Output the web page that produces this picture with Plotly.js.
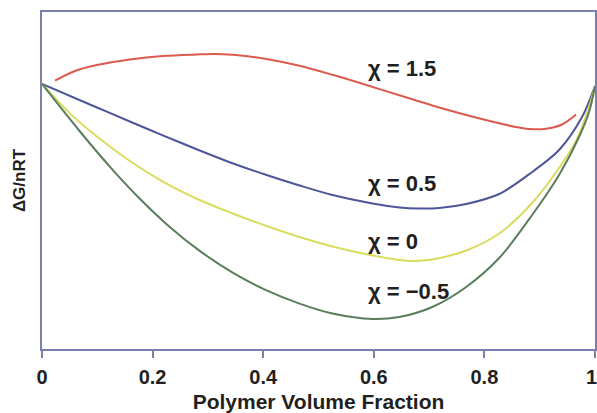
<!DOCTYPE html>
<html>
<head>
<meta charset="utf-8">
<script src="https://cdn.plot.ly/plotly-3.0.1.min.js"></script>
<style>html,body{margin:0;padding:0;background:#fff;}#chart{width:597px;height:413px;}</style>
</head>
<body>
<div id="chart"></div>
<script>
// Polymer volume fraction (x) and relative ΔG/nRT values (arbitrary units)
const redX   = [0.0235, 0.0596, 0.0993, 0.1588, 0.2184, 0.2798, 0.3123, 0.3448, 0.3755, 0.4061, 0.4657, 0.5253, 0.5866, 0.6462, 0.7058, 0.7671, 0.8267, 0.8538, 0.8809, 0.9116, 0.9404, 0.9657];
const redY   = [0.7961, 0.8249, 0.8427, 0.8591, 0.8694, 0.8739, 0.8754, 0.8730, 0.8680, 0.8605, 0.8404, 0.8136, 0.7834, 0.7528, 0.7226, 0.6944, 0.6697, 0.6596, 0.6528, 0.6534, 0.6662, 0.6958];

const blueX  = [0, 0.0993, 0.1588, 0.2184, 0.2852, 0.3394, 0.4061, 0.4657, 0.5253, 0.5975, 0.6462, 0.6823, 0.7184, 0.7671, 0.8267, 0.8863, 0.9350, 0.9765, 1.0];
const blueY  = [0.7864, 0.7166, 0.6751, 0.6341, 0.5890, 0.5543, 0.5163, 0.4852, 0.4570, 0.4318, 0.4199, 0.4169, 0.4184, 0.4303, 0.4599, 0.5252, 0.5905, 0.6884, 0.7804];

const yellowX = [0, 0.0505, 0.0993, 0.1588, 0.2184, 0.2852, 0.3448, 0.4061, 0.4657, 0.5253, 0.5848, 0.6462, 0.6733, 0.7058, 0.7671, 0.8267, 0.8863, 0.9350, 0.9657, 0.9892, 1.0];
const yellowY = [0.7864, 0.6991, 0.6303, 0.5579, 0.4970, 0.4421, 0.4021, 0.3650, 0.3323, 0.3042, 0.2819, 0.2641, 0.2611, 0.2656, 0.2923, 0.3427, 0.4332, 0.5371, 0.6172, 0.7181, 0.7804];

const greenX = [0, 0.0686, 0.1282, 0.1769, 0.2310, 0.2852, 0.3448, 0.4061, 0.4657, 0.5253, 0.5975, 0.6462, 0.7058, 0.7671, 0.8267, 0.8863, 0.9350, 0.9711, 0.9892, 1.0];
const greenY = [0.7864, 0.6454, 0.5309, 0.4460, 0.3623, 0.2911, 0.2264, 0.1739, 0.1347, 0.1053, 0.0890, 0.0950, 0.1246, 0.1840, 0.2700, 0.3976, 0.5163, 0.6291, 0.7033, 0.7804];

const labels = ['χ = 1.5', 'χ = 0.5', 'χ = 0', 'χ = −0.5'];
const labelY = [0.831, 0.490, 0.320, 0.172];
const xTicks = [0, 0.2, 0.4, 0.6, 0.8, 1];
const xTickText = ['0', '0.2', '0.4', '0.6', '0.8', '1'];

const frame = '#7b7fad';
const ink = '#231f20';
const font = 'Liberation Sans, Arial, Helvetica, sans-serif';

function tr(x, y, color) {
  return {x: x, y: y, type: 'scatter', mode: 'lines',
          line: {color: color, width: 2, shape: 'spline', smoothing: 0.9},
          hoverinfo: 'skip', showlegend: false};
}

const data = [
  tr(redX, redY, '#dc5a4e'),
  tr(blueX, blueY, '#4e5598'),
  tr(yellowX, yellowY, '#d9dc5c'),
  tr(greenX, greenY, '#5a7d5c')
];

const tickFont = {family: font, size: 20, color: ink, weight: 700};

const annotations = labels.map((t, i) => ({
  x: 0.585, y: labelY[i], xref: 'x', yref: 'y', xanchor: 'left', yanchor: 'middle',
  text: t, showarrow: false, font: {family: font, size: 22, color: ink, weight: 700}
}));
// the last tick label sits against the right edge of the picture; keep it fully inside
const lastIdx = xTicks.length - 1;
annotations.push({
  x: xTicks[lastIdx], y: 0, xref: 'x', yref: 'paper', xanchor: 'right', yanchor: 'middle',
  xshift: 3, yshift: -28, text: xTickText[lastIdx], showarrow: false, borderpad: 0,
  font: tickFont
});

const layout = {
  width: 597, height: 413,
  margin: {l: 42, r: 2, t: 12, b: 64, pad: 0},
  paper_bgcolor: '#fff', plot_bgcolor: '#fff',
  showlegend: false,
  xaxis: {
    range: [0, 1], tickvals: xTicks,
    ticktext: xTickText.map((t, i) => i === lastIdx ? ' ' : t),
    ticks: 'outside', ticklen: 7, tickwidth: 2, tickcolor: frame,
    ticklabelstandoff: 2,
    showline: true, linecolor: frame, linewidth: 2, mirror: true,
    showgrid: false, zeroline: false, fixedrange: true, automargin: false,
    tickfont: tickFont,
    title: {text: 'Polymer Volume Fraction', standoff: 13,
            font: {family: font, size: 21, color: ink, weight: 700}}
  },
  yaxis: {
    range: [0, 1], showticklabels: false, ticks: '',
    showline: true, linecolor: frame, linewidth: 2, mirror: true,
    showgrid: false, zeroline: false, fixedrange: true, automargin: false,
    title: {text: 'ΔG/nRT', standoff: 10,
            font: {family: font, size: 17, color: ink, weight: 700}}
  },
  annotations: annotations
};

Plotly.newPlot('chart', data, layout, {displayModeBar: false, staticPlot: true});
</script>
</body>
</html>
